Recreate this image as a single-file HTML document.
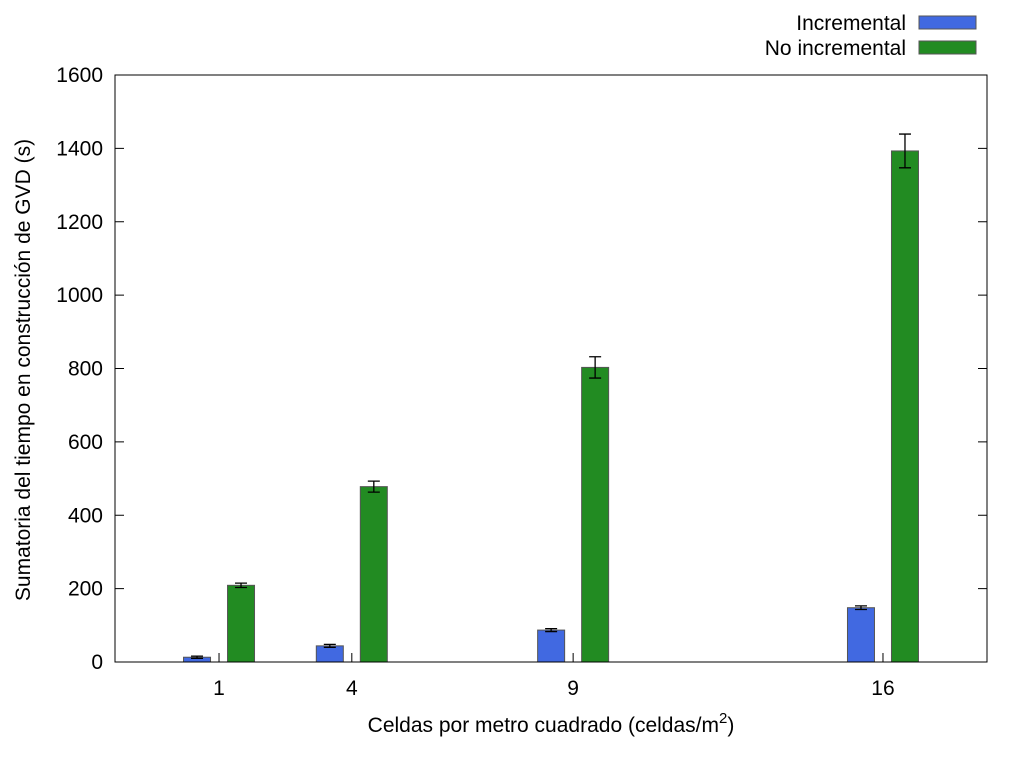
<!DOCTYPE html>
<html><head><meta charset="utf-8"><style>
body{margin:0;background:#fff;}
svg text{font-family:"Liberation Sans",sans-serif;fill:#000;}
</style></head><body>
<svg width="1024" height="768" xmlns="http://www.w3.org/2000/svg">
<g id="plot"></g>
</svg>
<script>
const categories=[1,4,9,16];
const incremental=[13,44,87,148];
const incErr=[3,4,4,5];
const noIncremental=[209,478,803,1393];
const noIncErr=[6,15,29,46];
const yTicks=[0,200,400,600,800,1000,1200,1400,1600];
const seriesNames=["Incremental","No incremental"];

const NS="http://www.w3.org/2000/svg";
const g=document.getElementById('plot');
const L=115,R=987,T=75,B=662;
const xMin=-1.35,xMax=18.35,yMax=1600;
const FS=21;
const xs=v=>L+(v-xMin)/(xMax-xMin)*(R-L);
const ys=v=>B-v/yMax*(B-T);
function el(t,a,txt){const e=document.createElementNS(NS,t);for(const k in a)e.setAttribute(k,a[k]);if(txt!==undefined)e.textContent=txt;g.appendChild(e);return e;}

yTicks.forEach(v=>{
 const y=ys(v);
 const t1=el('line',{x1:L,y1:y,x2:L+9,y2:y,stroke:'#000'});
 
 
 const t2=el('line',{x1:R-9,y1:y,x2:R,y2:y,stroke:'#000'});
 
 
 const tx=el('text',{x:L-12,y:y+7,'text-anchor':'end','font-size':FS},v);
 
 
});
categories.forEach(c=>{
 const x=xs(c);
 const t=el('line',{x1:x,y1:B,x2:x,y2:B-9,stroke:'#000'});
 
 
 const tx=el('text',{x:x,y:B+33,'text-anchor':'middle','font-size':FS},c);
 
 
});
function bars(vals,errs,off,color,name){
 vals.forEach((v,i)=>{
  const cx=xs(categories[i])+off;
  const r=el('rect',{x:cx-13.5,y:ys(v),width:27,height:B-ys(v),fill:color,stroke:'#555','stroke-width':1});
  
  
  const e=errs[i],y1=ys(v+e),y2=ys(v-e);
  const eb=el('path',{d:`M${cx},${y1}V${y2}M${cx-6},${y1}H${cx+6}M${cx-6},${y2}H${cx+6}`,stroke:'#000','stroke-width':1.3,fill:'none'});
  
  
 });
}
bars(incremental,incErr,-22,'#4169e1','incremental');
bars(noIncremental,noIncErr,22,'#228b22','no-incremental');
const fr=el('rect',{x:L,y:T,width:R-L,height:B-T,fill:'none',stroke:'#000','stroke-width':1});


[['#4169e1',23],['#228b22',48]].forEach((d,i)=>{
 const tx=el('text',{x:906,y:d[1]+7,'text-anchor':'end','font-size':FS},seriesNames[i]);
 
 
 const r=el('rect',{x:919,y:d[1]-7,width:57,height:13,fill:d[0],stroke:'#555'});
 
 
});
const xt=el('text',{x:551,y:732,'text-anchor':'middle','font-size':FS});
xt.innerHTML='Celdas por metro cuadrado (celdas/m<tspan dy="-9" font-size="15">2</tspan><tspan dy="9">)</tspan>';


const yt=el('text',{x:0,y:0,'text-anchor':'middle','font-size':FS,transform:'translate(30,370) rotate(-90)'},'Sumatoria del tiempo en construcción de GVD (s)');


</script>
</body></html>
